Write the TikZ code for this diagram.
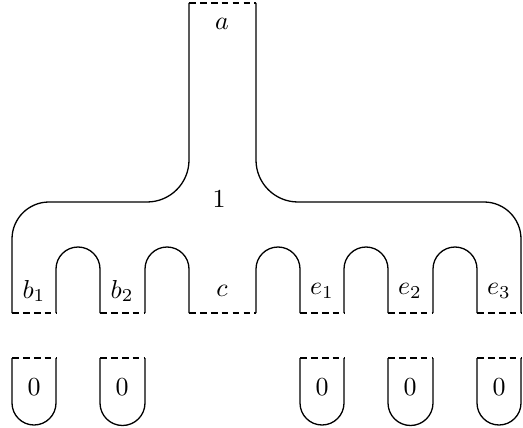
\documentclass[tikz,border=0pt]{standalone}
\usepackage{amsmath}
\usepackage{tikz}

\begin{document}
\begin{tikzpicture}[
    x=0.385pt,y=0.385pt,
    rim/.style={draw,line width=0.5pt},
    cut/.style={draw,line width=0.5pt,dash pattern=on 2.6pt off 1.6pt},
    lbl/.style={inner sep=0pt}
]
\useasboundingbox (0,0) rectangle (523,427);
% outer boundary of the piece
\path[rim] (189,424) -- (189,267) arc(0:-90:42) -- (49,225) arc(90:180:37)
    -- (12,114);
\path[rim] (521,114) -- (521,188) arc(0:90:37) -- (298,225) arc(270:180:42)
    -- (256,424);
\foreach \l/\r in {56/100,145/189,256/300,344/388,433/477}
    \path[rim] (\l,114) -- (\l,158) arc(180:0:{(\r-\l)/2}) -- (\r,114);
% cut edges
\path[cut] (189,424) -- (256,424);
\foreach \l/\r in {12/56,100/145,189/256,300/344,388/433,477/521}
    \path[cut] (\l,114) -- (\r,114);
% caps
\foreach \l/\r in {12/56,100/145,300/344,388/433,477/521} {
    \path[cut] (\l,69) -- (\r,69);
    \path[rim] (\l,69) -- (\l,24) arc(180:360:{(\r-\l)/2}) -- (\r,69);
}
\node[lbl] (a) at (222,403) {$a$};
\node[lbl] (one) at (219,228) {1};
\node[lbl] (b1) at (34,136) {$b_1$};
\node[lbl] (b2) at (122,136) {$b_2$};
\node[lbl] (c) at (222,136) {$c$};
\node[lbl] (e1) at (322,136) {$e_1$};
\node[lbl] (e2) at (410,136) {$e_2$};
\node[lbl] (e3) at (499,136) {$e_3$};
\node[lbl] (z1) at (34,40) {0};
\node[lbl] (z2) at (122,40) {0};
\node[lbl] (z3) at (322,40) {0};
\node[lbl] (z4) at (410,40) {0};
\node[lbl] (z5) at (499,40) {0};
\end{tikzpicture}
\end{document}
